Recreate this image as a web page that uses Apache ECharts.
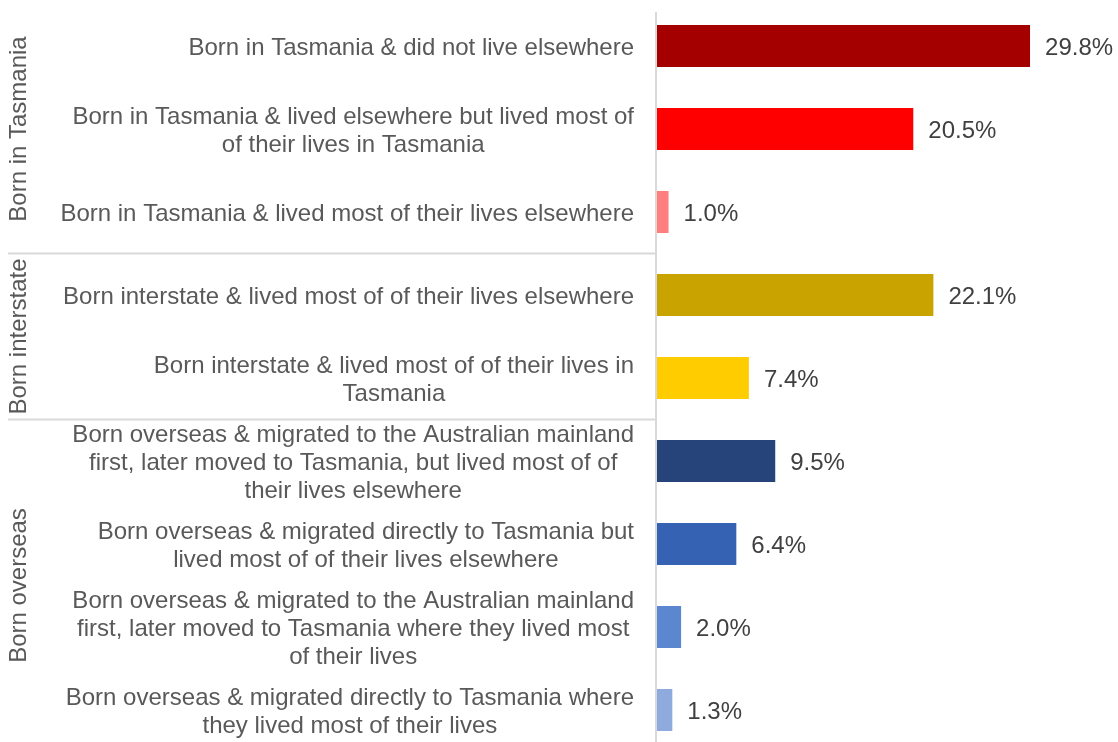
<!DOCTYPE html>
<html><head><meta charset="utf-8">
<script src="https://cdn.jsdelivr.net/npm/echarts@6/dist/echarts.min.js"></script>
<style>html,body{margin:0;padding:0;background:#fff}#c{width:1118px;height:742px}</style>
</head><body><div id="c"></div>
<script>
const categories = [
  "Born in Tasmania & did not live elsewhere",
  "Born in Tasmania & lived elsewhere but lived most of\nof their lives in Tasmania",
  "Born in Tasmania & lived most of their lives elsewhere",
  "Born interstate & lived most of of their lives elsewhere",
  "Born interstate & lived most of of their lives in\nTasmania",
  "Born overseas & migrated to the Australian mainland\nfirst, later moved to Tasmania, but lived most of of\ntheir lives elsewhere",
  "Born overseas & migrated directly to Tasmania but\nlived most of of their lives elsewhere",
  "Born overseas & migrated to the Australian mainland\nfirst, later moved to Tasmania where they lived most\nof their lives",
  "Born overseas & migrated directly to Tasmania where\nthey lived most of their lives"
];
const values = [29.8, 20.5, 1.0, 22.1, 7.4, 9.5, 6.4, 2.0, 1.3];
const barColors = ["#A50000", "#FF0000", "#FF7F7F", "#C9A400", "#FFCC00", "#264479", "#3562B3", "#5B86D0", "#8FAADC"];
const groupNames = ["Born in Tasmania", "Born interstate", "Born overseas"];
const groupSizes = [3, 2, 4];

const chart = echarts.init(document.getElementById('c'), null, {renderer: 'canvas'});
const FONT = 'Liberation Sans, Arial, sans-serif';
const option = {
  animation: false,
  grid: {left: 656, right: 22.7, top: 4.5, bottom: -9.5, containLabel: false, outerBoundsMode: 'none'},
  xAxis: {type: 'value', min: 0, max: 35, show: false},
  yAxis: {
    type: 'category', inverse: true, data: categories,
    axisLine: {show: false},
    axisTick: {show: false},
    axisLabel: {
      margin: 22, align: 'right', color: '#595959', fontFamily: FONT, fontSize: 24, lineHeight: 28,
      padding: [4, 0, 0, 0],
      formatter: v => v.split('\n').map(l => '{c|' + l + '}').join('\n'),
      rich: {c: {align: 'center', color: '#595959', fontFamily: FONT, fontSize: 24, lineHeight: 28}}
    }
  },
  series: [{
    type: 'bar', barWidth: 42,
    data: values.map((v, i) => ({value: v, itemStyle: {color: barColors[i]}})),
    label: {show: true, position: 'right', distance: 15, offset: [0, 2], color: '#404040', fontFamily: FONT, fontSize: 24,
      formatter: p => p.value.toFixed(1) + '%'}
  }]
};
chart.setOption(option);

// group labels, separators and value-axis line, positioned through the axis scales
const graphics = [];
let start = 0;
const x0 = chart.convertToPixel({xAxisIndex: 0}, 0);
const yFirst = chart.convertToPixel({yAxisIndex: 0}, 0);
graphics.push({type: 'line', shape: {x1: x0, y1: yFirst - 34, x2: x0, y2: 742},
  style: {stroke: '#D9D9D9', lineWidth: 2}, z: 10});
groupNames.forEach((g, gi) => {
  const end = start + groupSizes[gi] - 1;
  const yA = chart.convertToPixel({yAxisIndex: 0}, start);
  const yB = chart.convertToPixel({yAxisIndex: 0}, end);
  const half = groupSizes[gi] > 1 ? (yB - yA) / (groupSizes[gi] - 1) / 2 : 41.5;
  const top = yA - half, bot = yB + half;
  graphics.push({type: 'text', x: 19, y: (top + bot) / 2, rotation: Math.PI / 2,
    style: {text: g, fill: '#595959', font: '24px ' + FONT, align: 'center', verticalAlign: 'middle'}});
  if (gi < groupNames.length - 1) {
    graphics.push({type: 'line', shape: {x1: 8, y1: bot, x2: x0, y2: bot},
      style: {stroke: '#D9D9D9', lineWidth: 2}});
  }
  start = end + 1;
});
chart.setOption({graphic: graphics});
</script></body></html>
